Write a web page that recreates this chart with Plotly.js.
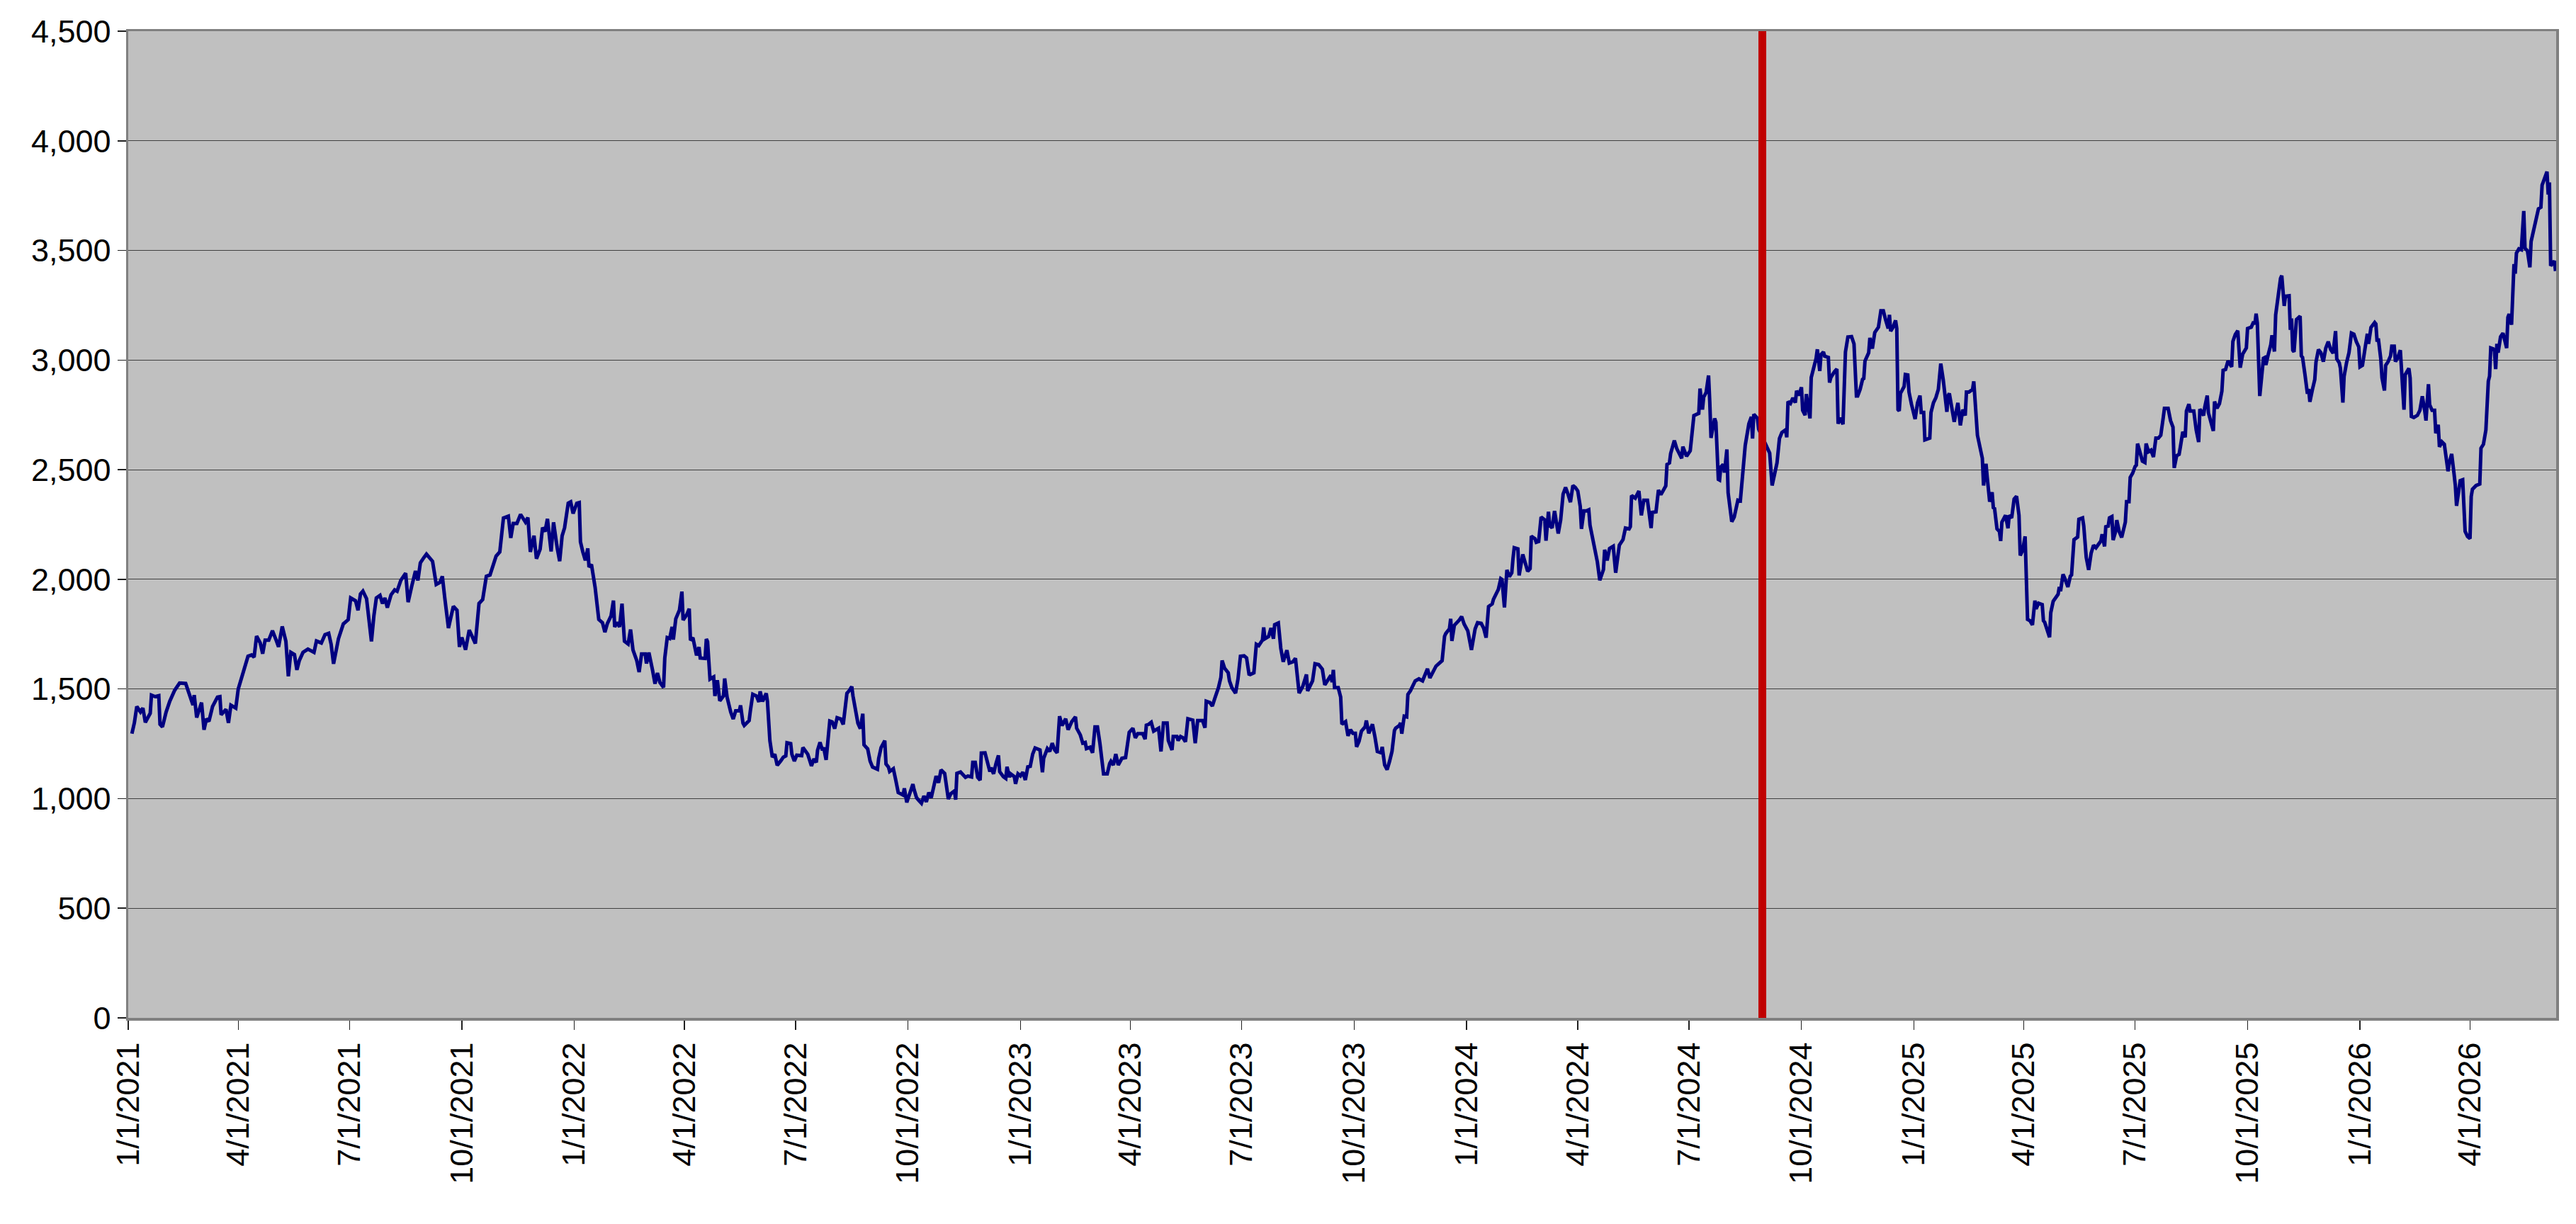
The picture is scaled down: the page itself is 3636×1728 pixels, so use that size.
<!DOCTYPE html>
<html>
<head>
<meta charset="utf-8">
<title>Index level 2021-2026</title>
<script src="https://cdn.plot.ly/plotly-3.0.1.min.js"></script>
<style>
  html, body { margin: 0; padding: 0; background: #ffffff; }
  #chart { width: 3636px; height: 1728px; }
</style>
</head>
<body>
<div id="chart"></div>
<script>
// day offsets counted from startDate, one per reading
const startDate = '2021-01-01';
const endDate = '2026-06-10 12:00';
const markerDate = '2024-08-30';

const days = [
  3,5,7,10,12,14,18,19,22,25,26,28,31,34,38,42,47,50,53,54,56,60,62,64,66,69,73,75,76,80,82,84,88,90,94,98,101,103,105,108,
  110,112,115,118,121,123,126,129,131,133,136,138,140,143,147,152,154,158,161,164,166,168,172,176,180,182,186,188,190,192,
  195,199,201,203,206,208,210,212,215,218,220,223,227,229,232,235,237,239,242,244,249,252,255,257,259,262,266,269,271,273,
  276,279,284,287,290,293,296,298,301,304,307,311,313,315,318,321,325,327,329,332,334,337,339,341,343,346,
  348,351,353,355,357,360,362,364,367,369,370,372,374,376,377,379,382,385,388,390,392,395,397,398,400,402,404,406,409,411,
  413,416,418,420,423,424,426,429,431,433,435,438,439,441,443,445,446,448,451,453,454,457,459,460,462,465,467,468,472,473,
  474,476,479,480,482,484,487,488,490,493,495,497,500,501,503,504,508,509,511,514,516,517,519,522,523,525,527,529,531,534,
  536,538,539,542,543,545,547,551,552,556,558,559,561,563,564,566,568,569,571,573,574,576,578,580,583,585,587,588,590,592,
  593,595,597,599,601,602,605,607,609,613,614,616,619,620,622,623,626,628,630,634,635,637,639,642,643,645,647,649,651,653,
  655,657,659,661,663,665,668,670,671,673,676,677,678,681,683,685,687,690,691,693,695,697,698,
  701,703,705,706,708,710,712,713,716,718,719,721,722,725,726,728,730,732,734,736,738,740,742,746,747,748,749,752,754,756,
  758,760,762,764,767,769,772,775,776,779,781,783,784,787,789,791,793,795,798,801,803,804,806,808,810,813,816,818,819,822,
  824,826,830,832,833,835,837,839,843,845,847,850,851,854,855,858,859,861,863,865,867,871,873,875,879,881,882,885,887,889,
  892,894,895,897,900,901,903,906,908,910,913,915,917,918,921,923,925,928,929,930,933,935,937,938,941,943,945,948,950,953,
  955,958,961,964,965,969,971,974,977,979,981,984,985,986,987,990,992,993,996,998,1000,1002,1004,1005,1007,1009,1012,1013,1015,1018,
  1020,1022,1025,1026,1028,1030,1032,1034,1036,1037,1040,1041,1042,1044,1046,1047,1049,1051,1053,1056,
  1059,1063,1065,1070,1073,1075,1077,1078,1081,1082,1083,1085,1089,1091,1093,1096,1099,1100,1102,1104,
  1107,1109,1111,1113,1116,1117,1120,1121,1123,1124,1126,1128,1130,1132,1133,1134,1137,1138,1141,1143,
  1145,1147,1148,1151,1152,1154,1156,1159,1160,1162,1163,1165,1167,1170,1172,1174,1176,1178,1180,1182,
  1184,1186,1188,1189,1191,1193,1195,1196,1198,1200,1202,1204,1207,1208,1210,1212,1215,1217,1219,1220,
  1223,1225,1228,1229,1230,1233,1236,1238,1240,1243,1246,1247,1250,1252,1254,1256,1258,1259,1261,1262,
  1265,1267,1271,1272,1275,1278,1279,1281,1285,1286,1288,1289,1291,1293,1294,1295,1298,1299,1301,1302,
  1303,1305,1306,1308,1309,1312,1314,1317,1319,1321,1323,1326,1328,1329,1330,1333,1334,1343,1345,1349,
  1351,1353,1356,1357,1358,1360,1362,1364,1365,1367,1369,1370,1372,1373,1376,1377,1379,1381,1382,1384,
  1385,1387,1388,1391,1392,1393,1396,1398,1399,1401,1403,1404,1405,1407,1410,1412,
  1414,1415,1417,1419,1420,1421,1424,1425,1427,1429,1432,1434,1436,1438,1440,1441,1442,1444,1446,1447,
  1448,1449,1450,1453,1454,1456,1457,1459,1461,1462,1464,1466,1467,1469,1470,1472,1474,1475,1477,1479,
  1481,1483,1485,1488,1489,1490,1492,1494,1497,1499,1501,1503,1504,1506,1509,1510,1513,1515,1517,1518,
  1520,1521,1523,1525,1526,1527,1529,1531,1532,1533,1536,1538,1539,1541,1543,1545,1547,1548,1550,1552,
  1554,1556,1558,1560,1561,1563,1566,1567,1568,1572,1573,1575,1577,1579,1580,1581,1583,1584,1587,1589,
  1590,1592,1595,1596,1599,1600,1602,1604,1606,1608,1610,1612,1614,1615,1617,1618,1620,1621,1623,1624,
  1626,1627,1629,1631,1634,1635,1637,1638,1640,1642,1643,1644,1646,1648,1650,1651,1653,1655,1657,1659,
  1661,1663,1665,1666,1669,1671,1673,1674,1676,1678,1679,1681,1683,1684,1686,1687,1690,1692,1694,1695,
  1696,1698,1699,1701,1702,1706,1707,1709,1711,1713,1714,1716,1718,1721,1722,1724,1726,1728,1730,1731,
  1733,1734,1737,1739,1740,1741,1742,1744,1745,1747,1748,1749,1751,1753,1754,1756,1757,1759,1761,1762,
  1764,1765,1768,1769,1770,1771,1772,1774,1777,1778,1779,1781,1783,1784,1785,1787,1789,1790,1792,1794,
  1796,1798,1800,1802,1804,1806,1807,1809,1810,1812,1813,1815,1817,1819,1821,1823,1825,1826,1828,1830,
  1832,1833,1835,1838,1839,1840,1841,1843,1844,1846,1847,1849,1851,1852,1854,1855,1857,1859,1860,1862,
  1863,1865,1866,1867,1868,1870,1873,1875,1876,1877,1879,1880,1882,1883,1885,1887,1888,1890,1891,1893,
  1895,1897,1898,1899,1901,1903,1904,1905,1907,1908,1910,1912,1914,1916,1917,1918,1921,1924,1925,1927,
  1929,1931,1932,1933,1935,1936,1937,1938,1939,1941,1943,1945,1946,1947,1948,1950,1952,1953,1954,1956,
  1958,1960,1961,1963,1965,1966,1968,1970,1972,1974,1975,1976,1978,1979,1980,1981,1982,1984,1985,1986
];

const values = [
  1296,1345,1420,1395,1413,1348,1389,1472,1465,1469,1339,1327,1395,1444,1494,1527,1525,1469,1426,1472,1370,1438,1314,1364,1352,1420,1463,1465,1382,1407,1345,1426,1413,1500,1574,1649,1655,1645,1741,1710,
  1661,1723,1723,1766,1723,1692,1785,1717,1558,1667,1657,1587,1630,1667,1682,1667,1719,1710,1748,1754,1704,1615,1729,1797,1816,1915,1902,1859,1933,1946,
  1912,1717,1834,1915,1927,1890,1915,1871,1929,1952,1946,1995,2028,1896,1970,2038,1995,2075,2100,2115,2082,1977,1986,2014,1915,1778,1877,1859,1692,1735,
  1679,1769,1707,1890,1908,2014,2020,2057,2106,2125,2280,2288,2189,2255,2255,2296,2261,2282,2125,2199,2094,2137,2236,2218,2276,2127,
  2260,2142,2083,2198,2235,2347,2353,2300,2347,2350,2171,2124,2087,2141,2056,2068,1963,1817,1802,1759,1798,1833,1903,1783,1804,1783,1889,1718,1705,1771,
  1678,1631,1577,1660,1660,1616,1666,1585,1524,1573,1530,1507,1641,1734,1730,1783,1725,1820,1860,1944,1814,1839,1866,1722,1734,1653,1691,1641,1639,1728,
  1716,1545,1555,1468,1540,1446,1468,1548,1462,1394,1363,1400,1400,1425,1344,1334,1356,1400,1476,1468,1441,1489,1443,1480,1443,1264,1189,1202,1152,1173,
  1189,1195,1255,1251,1202,1171,1198,1196,1233,1202,1171,1149,1181,1165,1220,1257,1220,1233,1177,1288,1354,1350,1319,1369,1363,1338,1427,1480,1493,1511,
  1468,1412,1344,1319,1387,1245,1227,1171,1144,1134,1183,1233,1264,1158,1144,1124,1136,1084,1028,1016,1047,983,1022,1066,1041,1004,991,979,1012,985,
  1028,1004,1053,1103,1072,1131,1115,1028,998,1022,1035,995,1115,1121,1109,1097,1103,1099,1165,1165,1097,1084,1208,
  1209,1166,1123,1141,1113,1160,1197,1123,1100,1092,1145,1098,1113,1100,1067,1113,1104,1120,1085,1145,1147,1203,1231,1222,1147,1120,1184,1228,1215,1253,
  1222,1209,1376,1333,1364,1314,1351,1373,1321,1290,1253,1256,1228,1234,1209,1327,1327,1253,1113,1113,1160,1170,1153,1203,1153,1184,1187,1259,1302,1321,
  1277,1296,1296,1271,1335,1339,1348,1308,1321,1215,1345,1345,1265,1222,1283,1283,1265,1283,1277,1259,1364,1358,1253,1356,1356,1323,1444,1438,1422,1457,
  1506,1553,1630,1595,1574,1537,1506,1481,1546,1649,1651,1642,1568,1566,1574,1704,1698,1723,1781,1729,1739,1778,1729,1793,1801,1686,1624,1677,1618,1624,
  1640,1481,1512,1566,1491,1537,1615,1611,1590,1519,1537,1562,1531,1587,1506,1506,1463,1339,1351,1286,1314,1298,1298,1236,1261,1308,1327,1356,1298,1339,
  1283,1215,1209,1236,1153,1132,1170,1215,1311,1321,1333,1345,1296,1376,1373,1475,1491,1512,1537,1546,
  1537,1592,1550,1604,1617,1629,1740,1753,1774,1820,1719,1790,1814,1830,1796,1765,1678,1709,1774,1802,
  1799,1777,1734,1876,1888,1909,1950,1954,2003,1999,1872,2043,2012,2030,2095,2144,2139,2018,2114,2070,
  2037,2049,2197,2185,2169,2173,2284,2271,2176,2308,2247,2234,2312,2209,2271,2389,2419,2389,2352,2428,
  2419,2403,2333,2230,2312,2312,2317,2247,2191,2129,2080,1996,2045,2135,2086,2141,2151,2030,2135,2156,
  2181,2234,2230,2240,2382,2370,2403,2292,2361,2361,2234,2305,2308,2407,2386,2403,2426,2524,2531,2574,
  2633,2596,2552,2605,2561,2586,2648,2747,2757,2870,2774,2831,2852,2930,2808,2645,2734,2716,2456,2453,
  2512,2524,2487,2592,2395,2263,2284,2361,2358,2487,2611,2710,2741,2642,2753,2734,2685,2576,2428,2531,
  2642,2670,2682,2648,2811,2802,2827,2806,2860,2839,2876,2771,2749,2845,2734,2920,2963,3008,3049,2950,
  3025,3037,3018,3012,2897,2920,2947,2959,2710,2737,2707,2932,3037,3105,3107,3074,
  2836,2836,2866,2912,2916,2996,3033,3101,3052,3126,3150,3225,3225,3181,3144,3206,3132,3150,3181,3144,
  2774,2768,2848,2879,2934,2932,2854,2799,2747,2731,2805,2838,2761,2761,2636,2638,2644,2761,2805,2829,
  2866,2984,2910,2764,2836,2848,2774,2718,2805,2702,2774,2747,2854,2854,2866,2903,2657,2601,2552,2428,
  2527,2465,2354,2397,2327,2323,2230,2218,2175,2261,2292,2233,2292,2280,2366,2379,2292,2109,2132,2196,
  1817,1811,1792,1903,1866,1891,1885,1811,1804,1736,1848,1900,1916,1932,1965,1946,2023,2011,1965,2014,
  2020,2181,2193,2274,2280,2243,2101,2043,2119,2156,2144,2163,2175,2206,2150,2240,2243,2280,2286,2179,
  2218,2270,2218,2191,2261,2354,2354,2465,2484,2515,2521,2619,2582,2539,2533,2619,2582,2589,2558,2644,
  2644,2657,2737,2780,2780,2724,2694,2508,2564,2570,2603,2673,2648,2768,2799,2768,2768,2681,2626,2776,
  2768,2747,2786,2838,2759,2677,2811,2780,2801,2858,2953,2957,2996,2969,3085,3117,3134,2965,3027,3039,
  3055,3144,3150,3175,3163,3212,3169,2836,2910,3008,3011,2978,3027,3070,3113,3039,3206,3293,3373,3385,
  3247,3291,3293,3138,3190,3045,3037,3185,3200,3019,3012,2933,2846,2868,2810,2864,2911,2991,3048,3034,
  2993,3055,3084,3048,3031,3132,3005,2988,2962,2806,2926,2988,3034,3123,3118,3084,3060,2969,2976,3048,
  3120,3074,3149,3171,3164,3084,3099,3005,2919,2861,2976,2993,3019,3063,3063,2993,3012,3045,2926,2774,
  2933,2950,2962,2919,2743,2738,2748,2771,2803,2835,2767,2724,2890,2796,2771,2771,2666,2705,2604,2627,
  2616,2536,2493,2529,2572,2479,2428,2335,2399,2450,2454,2219,2195,2186,2378,2411,2428,2435,2598,2616,
  2681,2904,2926,3055,3051,3041,2959,3074,3034,3106,3123,3063,3055,3195,3210,3161,3438,3394,3488,3507,
  3503,3680,3510,3498,3423,3541,3596,3647,3690,3697,3798,3813,3839,3859,3755,3810,3430,3445,3452,3406
];

const yTickStep = 500;
const yMax = 4500;

document.addEventListener('DOMContentLoaded', function() {
  if (days.length !== values.length) {
    console.log('length mismatch', days.length, values.length);
  }
  drawChart();
});

function offsetToDate(offset) {
  const base = Date.parse(startDate + 'T00:00:00Z');
  return new Date(base + offset * 86400000).toISOString().slice(0, 10);
}

function drawChart() {
  const dates = days.map(offsetToDate);
  const tickFont = { family: 'Liberation Sans, Arial, sans-serif', size: 45, color: '#000000' };

  const data = [
    {
      type: 'scatter',
      mode: 'lines',
      x: dates,
      y: values,
      line: { color: '#000080', width: 5 },
      hoverinfo: 'x+y'
    }
  ];

  const layout = {
    width: 3636,
    height: 1728,
    margin: { l: 181, r: 28, t: 44, b: 291 },
    paper_bgcolor: '#ffffff',
    plot_bgcolor: '#c0c0c0',
    showlegend: false,
    xaxis: {
      type: 'date',
      range: [startDate, endDate],
      tick0: startDate,
      dtick: 'M3',
      tickformat: '%-m/%-d/%Y',
      tickangle: -90,
      ticks: 'outside',
      ticklen: 13,
      tickwidth: 1.5,
      tickcolor: '#202020',
      tickfont: tickFont,
      showgrid: false,
      zeroline: false,
      showline: true,
      linecolor: '#808080',
      linewidth: 3.5,
      mirror: true
    },
    yaxis: {
      range: [0, yMax],
      tick0: 0,
      dtick: yTickStep,
      tickformat: ',d',
      ticks: 'outside',
      ticklen: 12,
      tickwidth: 1.5,
      tickcolor: '#202020',
      tickfont: tickFont,
      showgrid: true,
      gridcolor: '#404040',
      gridwidth: 1.2,
      zeroline: false,
      showline: true,
      linecolor: '#808080',
      linewidth: 3.5,
      mirror: true
    },
    shapes: [
      {
        type: 'line',
        xref: 'x',
        yref: 'paper',
        x0: markerDate,
        x1: markerDate,
        y0: 0,
        y1: 1,
        layer: 'above',
        line: { color: '#c00000', width: 11 }
      }
    ]
  };

  Plotly.newPlot('chart', data, layout, { displayModeBar: false, staticPlot: true });
}
</script>
</body>
</html>
